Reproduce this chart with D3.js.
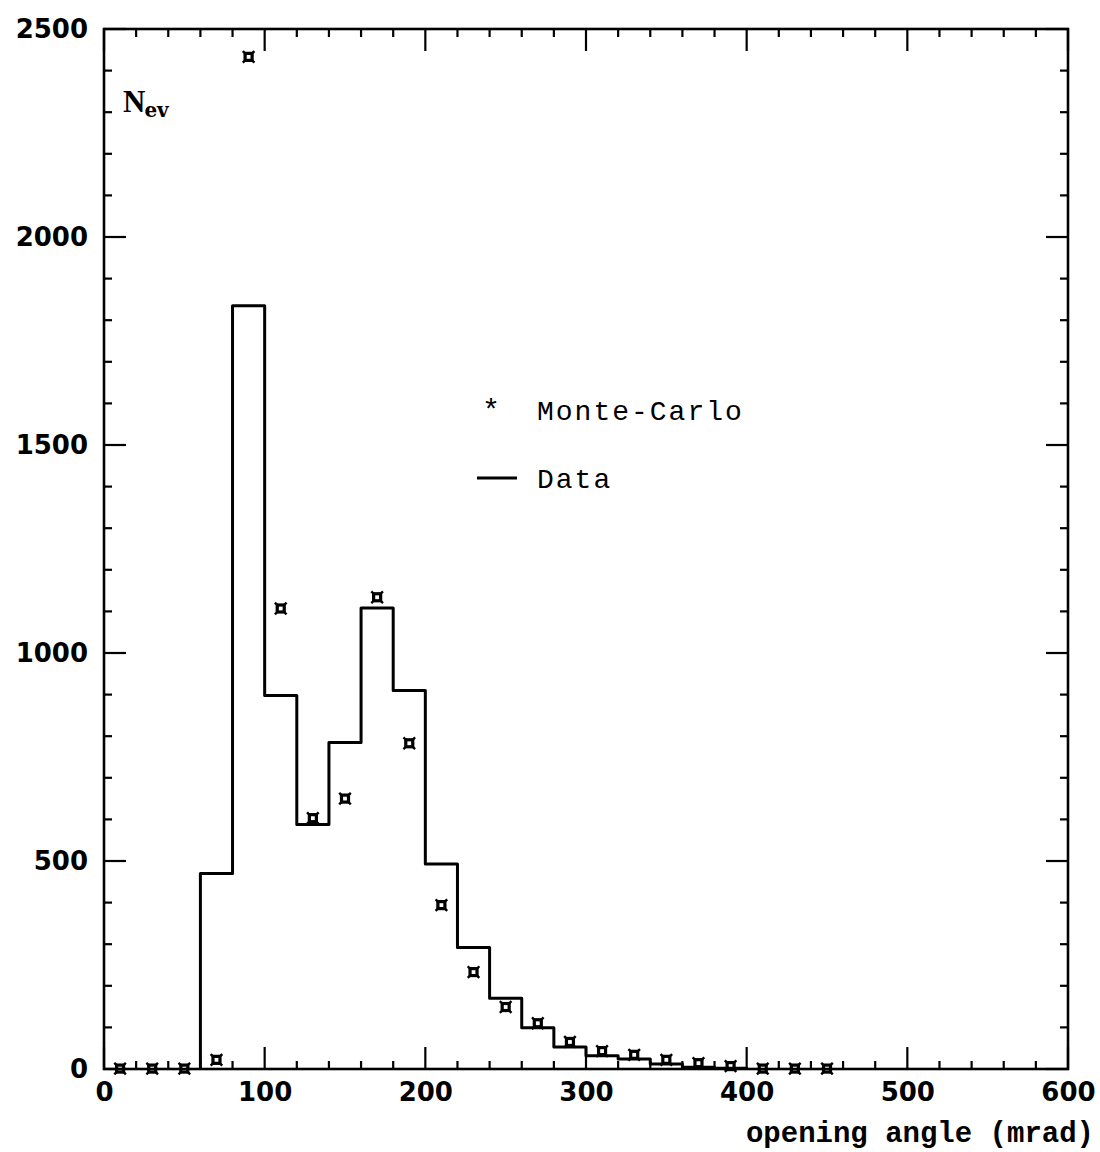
<!DOCTYPE html>
<html><head><meta charset="utf-8">
<script src="https://cdn.jsdelivr.net/npm/d3@7"></script>
<style>body{margin:0;background:#fff}svg{display:block}</style>
</head><body>
<script>
// Data histogram: lower bin edges (mrad) and counts
const binLow = [60, 80, 100, 120, 140, 160, 180, 200, 220, 240, 260, 280, 300, 320, 340, 360, 380];
const binWidth = 20;
const dataCounts = [470, 1835, 898, 588, 785, 1108, 910, 493, 292, 170, 99, 53, 32, 24, 12, 4, 2];
// Monte-Carlo points at bin centres
const mcCenters = [10, 30, 50, 70, 90, 110, 130, 150, 170, 190, 210, 230, 250, 270, 290, 310, 330, 350, 370, 390, 410, 430, 450];
const mcValues  = [1, 1, 1, 22, 2433, 1107, 603, 650, 1134, 783, 394, 233, 149, 110, 65, 43, 34, 22, 14, 7, 1, 1, 1];
const xMajor = [0, 100, 200, 300, 400, 500, 600];
const yMajor = [0, 500, 1000, 1500, 2000, 2500];

const W = 1100, H = 1152;
const L = 104, R = 1068, T = 29, B = 1069;
const svg = d3.select("body").append("svg").attr("width", W).attr("height", H);
const x = d3.scaleLinear().domain([0, 600]).range([L, R]);
const y = d3.scaleLinear().domain([0, 2500]).range([B, T]);

const ink = "#000";
// frame
svg.append("rect").attr("x", L).attr("y", T).attr("width", R - L).attr("height", B - T)
  .attr("fill", "none").attr("stroke", ink).attr("stroke-width", 2.6);

// ticks
const xMinor = d3.range(0, 601, 20).filter(v => v % 100 !== 0);
const yMinor = d3.range(0, 2501, 100).filter(v => v % 500 !== 0);
const tk = svg.append("g").attr("stroke", ink).attr("stroke-width", 2.2);
function xt(vals, len) {
  vals.forEach(v => {
    tk.append("line").attr("x1", x(v)).attr("x2", x(v)).attr("y1", B).attr("y2", B - len);
    tk.append("line").attr("x1", x(v)).attr("x2", x(v)).attr("y1", T).attr("y2", T + len);
  });
}
function yt(vals, len) {
  vals.forEach(v => {
    tk.append("line").attr("y1", y(v)).attr("y2", y(v)).attr("x1", L).attr("x2", L + len);
    tk.append("line").attr("y1", y(v)).attr("y2", y(v)).attr("x1", R).attr("x2", R - len);
  });
}
xt(xMajor, 22); xt(xMinor, 8); yt(yMajor, 22); yt(yMinor, 8);

// axis labels via d3 axes (text only)
const xAxis = d3.axisBottom(x).tickValues(xMajor).tickFormat(d3.format("d")).tickSize(0).tickPadding(14);
const gx = svg.append("g").attr("transform", `translate(0,${B})`).call(xAxis);
gx.select(".domain").remove();
gx.selectAll("text").attr("font-family", "DejaVu Sans").attr("font-weight", "bold")
  .attr("font-size", 26).attr("fill", ink);
const yAxis = d3.axisLeft(y).tickValues(yMajor).tickFormat(d3.format("d")).tickSize(0).tickPadding(16);
const gy = svg.append("g").attr("transform", `translate(${L},0)`).call(yAxis);
gy.select(".domain").remove();
gy.selectAll("text").attr("font-family", "DejaVu Sans").attr("font-weight", "bold")
  .attr("font-size", 26).attr("fill", ink);

// axis title
svg.append("text").attr("x", 1094).attr("y", 1142).attr("text-anchor", "end")
  .attr("font-family", "Liberation Mono").attr("font-weight", "bold").attr("font-size", 29)
  .attr("fill", ink).text("opening angle (mrad)");

// N_ev
const nt = svg.append("text").attr("x", 123).attr("y", 112)
  .attr("font-family", "Liberation Serif").attr("font-weight", "bold").attr("font-size", 31).attr("fill", ink);
nt.append("tspan").text("N");
nt.append("tspan").attr("dx", -1).attr("dy", 5).attr("font-size", 20).attr("font-family", "DejaVu Serif").text("ev");

// histogram path
const pts = [[binLow[0], 0]];
binLow.forEach((lo, i) => { pts.push([lo, dataCounts[i]]); pts.push([lo + binWidth, dataCounts[i]]); });
pts.push([binLow[binLow.length - 1] + binWidth, 0]);
svg.append("path").attr("d", d3.line().x(d => x(d[0])).y(d => y(d[1]))(pts))
  .attr("fill", "none").attr("stroke", ink).attr("stroke-width", 3).attr("stroke-linejoin", "round");

// MC markers
const mk = svg.append("g");
mcCenters.forEach((c, i) => {
  const cx = x(c), cy = y(mcValues[i]);
  const g = mk.append("g").attr("transform", `translate(${cx},${cy})`);
  g.append("rect").attr("x", -3.5).attr("y", -3.5).attr("width", 7).attr("height", 7)
    .attr("fill", "none").attr("stroke", ink).attr("stroke-width", 3.2);
  [[-1, -1], [1, -1], [-1, 1], [1, 1]].forEach(([sx, sy]) => {
    g.append("line").attr("x1", sx * 3.5).attr("y1", sy * 3.5).attr("x2", sx * 5.8).attr("y2", sy * 5.8)
      .attr("stroke", ink).attr("stroke-width", 2.4);
  });
});

// legend
svg.append("text").attr("x", 491).attr("y", 420).attr("text-anchor", "middle")
  .attr("font-family", "Liberation Mono").attr("font-size", 30).attr("fill", ink).text("*");
svg.append("text").attr("x", 537).attr("y", 420)
  .attr("font-family", "Liberation Mono").attr("font-size", 28).attr("letter-spacing", 2)
  .attr("fill", ink).text("Monte-Carlo");
svg.append("line").attr("x1", 477).attr("x2", 517).attr("y1", 478).attr("y2", 478)
  .attr("stroke", ink).attr("stroke-width", 3.2);
svg.append("text").attr("x", 537).attr("y", 488)
  .attr("font-family", "Liberation Mono").attr("font-size", 28).attr("letter-spacing", 2)
  .attr("fill", ink).text("Data");
</script>
</body></html>
